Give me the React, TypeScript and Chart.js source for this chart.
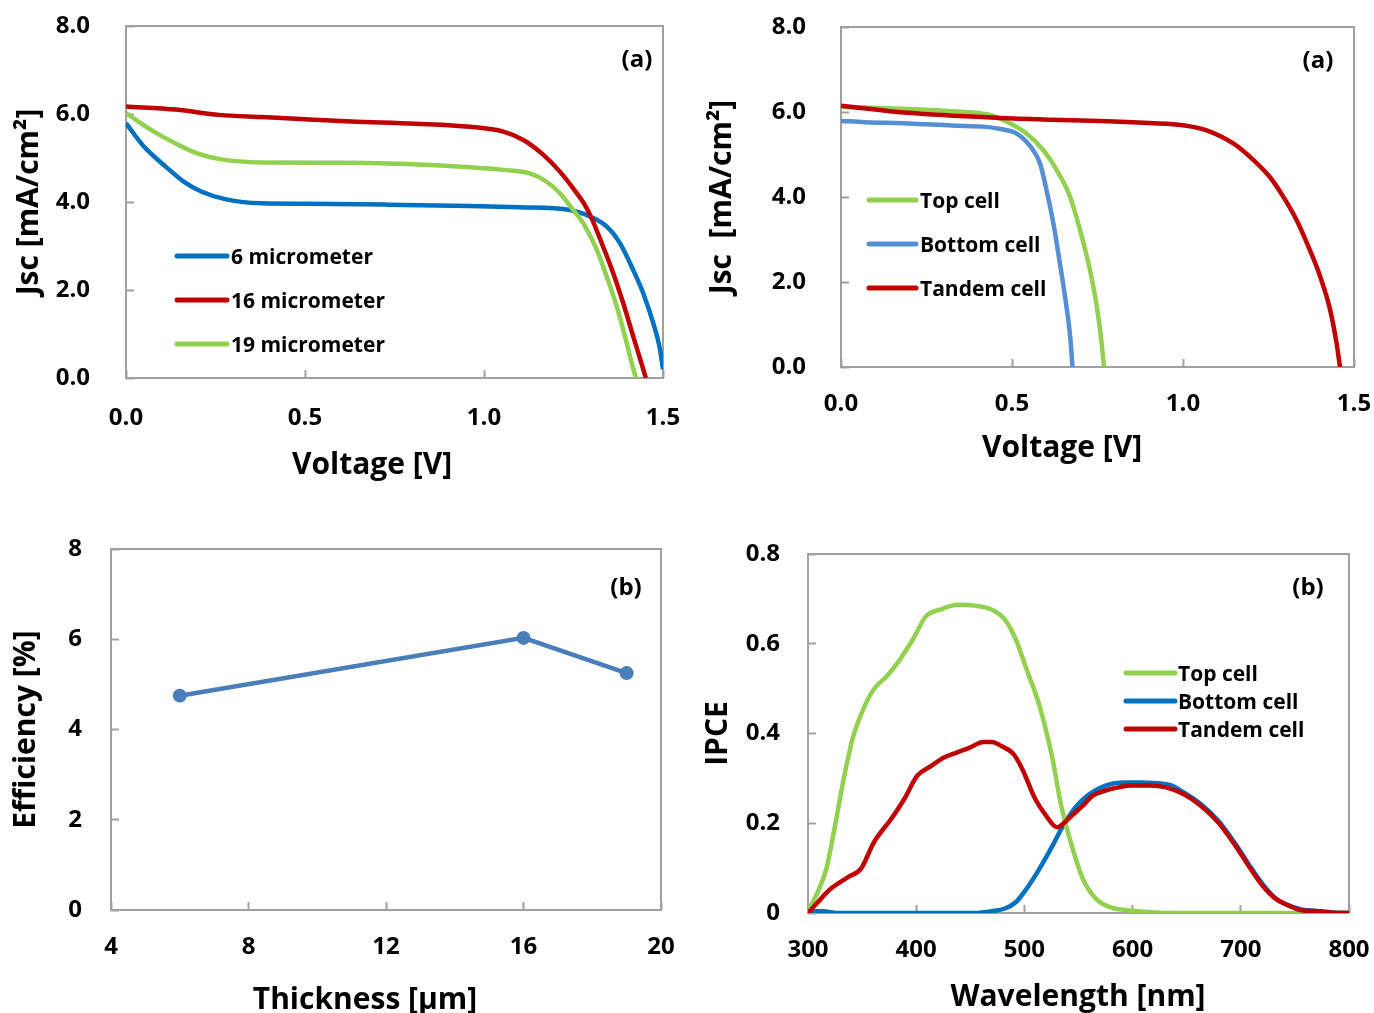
import React, { useEffect, useRef } from 'react';
import { Chart, registerables } from 'chart.js';

Chart.register(...registerables);

const FONT_FAMILY = '"Open Sans", "Liberation Sans", sans-serif';

// ---------- Panel (a), left: J-V curves for three absorber thicknesses ----------
const jv6Voltage = [0, 0.05, 0.11, 0.16, 0.21, 0.28, 0.38, 0.5, 0.73, 0.96, 1.1, 1.24, 1.296, 1.343, 1.38, 1.417, 1.445, 1.473, 1.49, 1.5];
const jv6Current = [5.79, 5.26, 4.81, 4.47, 4.24, 4.06, 3.97, 3.96, 3.94, 3.91, 3.88, 3.82, 3.67, 3.44, 3.06, 2.45, 1.92, 1.24, 0.72, 0.2];
const jv16Voltage = [0, 0.14, 0.26, 0.38, 0.5, 0.63, 0.81, 0.961, 1.054, 1.11, 1.166, 1.212, 1.249, 1.282, 1.305, 1.333, 1.361, 1.389, 1.417, 1.44, 1.452];
const jv16Current = [6.17, 6.1, 5.98, 5.93, 5.88, 5.83, 5.78, 5.71, 5.6, 5.41, 5.07, 4.69, 4.31, 3.93, 3.55, 2.98, 2.38, 1.7, 0.94, 0.33, 0];
const jv19Voltage = [0, 0.07, 0.136, 0.197, 0.259, 0.382, 0.629, 0.813, 0.961, 1.054, 1.128, 1.175, 1.212, 1.249, 1.277, 1.315, 1.343, 1.371, 1.394, 1.413, 1.424];
const jv19Current = [6.02, 5.64, 5.34, 5.11, 4.98, 4.9, 4.89, 4.85, 4.79, 4.73, 4.65, 4.46, 4.2, 3.82, 3.52, 2.91, 2.3, 1.62, 0.94, 0.33, 0];
const thicknessLabels = ['6 micrometer', '16 micrometer', '19 micrometer'];

// ---------- Panel (a), right: J-V curves of top, bottom and tandem cells ----------
const topVoltage = [0, 0.197, 0.324, 0.43, 0.485, 0.543, 0.592, 0.631, 0.67, 0.699, 0.728, 0.748, 0.762, 0.769];
const topCurrent = [6.12, 6.07, 6.02, 5.94, 5.77, 5.49, 5.1, 4.63, 4.0, 3.22, 2.28, 1.42, 0.56, 0];
const bottomVoltage = [0, 0.07, 0.197, 0.324, 0.425, 0.465, 0.514, 0.562, 0.582, 0.601, 0.621, 0.64, 0.655, 0.67, 0.677];
const bottomCurrent = [5.79, 5.76, 5.73, 5.68, 5.65, 5.6, 5.49, 5.1, 4.79, 4.16, 3.38, 2.44, 1.66, 0.72, 0];
const tandemVoltage = [0, 0.197, 0.465, 0.611, 0.757, 0.903, 1.0, 1.069, 1.147, 1.206, 1.254, 1.293, 1.332, 1.371, 1.401, 1.43, 1.449, 1.459];
const tandemCurrent = [6.15, 5.98, 5.86, 5.82, 5.79, 5.74, 5.69, 5.57, 5.26, 4.87, 4.47, 4.01, 3.46, 2.75, 2.13, 1.35, 0.56, 0];
const cellLabels = ['Top cell', 'Bottom cell', 'Tandem cell'];

// ---------- Panel (b), left: efficiency vs thickness ----------
const thicknessUm = [6, 16, 19];
const efficiencyPct = [4.75, 6.03, 5.25];

// ---------- Panel (b), right: IPCE spectra ----------
const topWavelength = [300, 309, 317, 325, 333, 341, 351, 361, 373, 385, 397, 409, 422, 438, 454, 470, 482, 492, 502, 514, 526, 534, 542, 554, 566, 579, 595, 615, 635, 700, 800];
const topIpce = [0.005, 0.047, 0.099, 0.195, 0.299, 0.387, 0.454, 0.499, 0.528, 0.565, 0.61, 0.661, 0.676, 0.687, 0.685, 0.676, 0.654, 0.61, 0.543, 0.461, 0.343, 0.239, 0.165, 0.076, 0.032, 0.013, 0.006, 0.002, 0, 0, 0];
const bottomWavelength = [300, 313, 329, 454, 470, 482, 492, 502, 514, 526, 534, 546, 558, 575, 591, 607, 623, 635, 647, 663, 679, 695, 707, 720, 732, 744, 756, 772, 788, 800];
const bottomIpce = [0.004, 0.004, 0, 0, 0.004, 0.01, 0.024, 0.054, 0.099, 0.15, 0.187, 0.232, 0.261, 0.284, 0.291, 0.291, 0.289, 0.285, 0.269, 0.243, 0.206, 0.154, 0.11, 0.065, 0.033, 0.017, 0.008, 0.004, 0.001, 0];
const tandemWavelength = [300, 309, 321, 337, 349, 361, 377, 389, 401, 414, 426, 438, 450, 462, 470, 478, 490, 498, 510, 520, 530, 542, 554, 563, 575, 587, 599, 615, 631, 647, 663, 679, 695, 707, 720, 732, 744, 756, 772, 788, 800];
const tandemIpce = [0, 0.024, 0.054, 0.08, 0.099, 0.158, 0.21, 0.254, 0.306, 0.328, 0.347, 0.358, 0.369, 0.381, 0.381, 0.373, 0.354, 0.321, 0.254, 0.217, 0.191, 0.213, 0.239, 0.261, 0.273, 0.28, 0.284, 0.284, 0.28, 0.265, 0.239, 0.202, 0.15, 0.106, 0.061, 0.032, 0.017, 0.006, 0.004, 0, 0];

// ---------- Tick values ----------
const jscTicks = [0, 2, 4, 6, 8];
const voltageTicks = [0, 0.5, 1.0, 1.5];
const efficiencyTicks = [0, 2, 4, 6, 8];
const thicknessTicks = [4, 8, 12, 16, 20];
const ipceTicks = [0, 0.2, 0.4, 0.6, 0.8];
const wavelengthTicks = [300, 400, 500, 600, 700, 800];

// ---------- Colours ----------
const BLUE = '#0070C0';
const LIGHT_BLUE = '#558ED5';
const RED = '#C00000';
const GREEN = '#92D050';
const STEEL = '#4A7EBB';
const FRAME = '#a0a0a0';

const pts = (xs: number[], ys: number[]) => xs.map((x, i) => ({ x, y: ys[i] }));

function axis(o: any) {
  return {
    type: 'linear',
    min: o.min,
    max: o.max,
    afterBuildTicks: (s: any) => {
      s.ticks = o.ticks.map((v: number) => ({ value: v }));
    },
    afterFit: (s: any) => {
      if (o.horizontal) s.height = o.fit;
      else s.width = o.fit;
      s.paddingTop = 0;
      s.paddingBottom = 0;
      s.paddingLeft = 0;
      s.paddingRight = 0;
    },
    ticks: {
      callback: (v: any) => o.fmt(Number(v)),
      padding: o.pad,
      color: '#000',
      font: { family: FONT_FAMILY, size: 24, weight: 'bold', lineHeight: 1.2 },
      autoSkip: false,
      maxRotation: 0,
      minRotation: 0,
    },
    grid: {
      display: true,
      drawOnChartArea: false,
      drawTicks: true,
      tickLength: -8,
      tickColor: FRAME,
      tickWidth: 2,
      color: FRAME,
    },
    border: { display: false },
    title: o.title
      ? {
          display: true,
          text: o.title,
          color: '#000',
          font: { family: FONT_FAMILY, size: 30, weight: 'bold', lineHeight: 1.2 },
          padding: { top: o.titlePad, bottom: 0 },
        }
      : { display: false },
  };
}

function decorations(d: any) {
  return {
    id: 'decorations',
    beforeDatasetsDraw(chart: any) {
      const { ctx, chartArea: a } = chart;
      ctx.save();
      ctx.strokeStyle = FRAME;
      ctx.lineWidth = 2;
      ctx.strokeRect(a.left, a.top, a.right - a.left, a.bottom - a.top);
      ctx.restore();
    },
    afterDatasetsDraw(chart: any) {
      const { ctx } = chart;
      ctx.save();
      ctx.fillStyle = '#000';
      ctx.textAlign = 'center';
      ctx.textBaseline = 'middle';
      (d.texts || []).forEach((t: any) => {
        ctx.font = `bold ${t.size}px ${FONT_FAMILY}`;
        ctx.fillText(t.text, t.x, t.y);
      });
      const lg = d.legend;
      if (lg) {
        chart.data.datasets.forEach((ds: any, i: number) => {
          const y = lg.y + i * lg.gap;
          ctx.strokeStyle = ds.borderColor;
          ctx.lineWidth = 5;
          ctx.lineCap = 'round';
          ctx.beginPath();
          ctx.moveTo(lg.x0, y);
          ctx.lineTo(lg.x1, y);
          ctx.stroke();
          ctx.font = `bold ${lg.size}px ${FONT_FAMILY}`;
          ctx.textAlign = 'left';
          ctx.fillText(ds.label, lg.textX, y + 2);
        });
      }
      ctx.restore();
    },
  };
}

const curve = (label: string, color: string, data: any[], order: number) => ({
  label,
  data,
  borderColor: color,
  backgroundColor: color,
  borderWidth: 4.5,
  pointRadius: 0,
  pointHoverRadius: 0,
  fill: false,
  cubicInterpolationMode: 'monotone',
  tension: 0.4,
  order,
});

const one = (v: number) => v.toFixed(1);

function baseOptions(padding: any, x: any, y: any) {
  return {
    responsive: false,
    maintainAspectRatio: false,
    animation: false,
    devicePixelRatio: 1,
    events: [],
    layout: { padding },
    plugins: { legend: { display: false }, tooltip: { enabled: false }, title: { display: false } },
    scales: { x, y },
  };
}

function configJvThickness(): any {
  return {
    type: 'line',
    data: {
      datasets: [
        curve(thicknessLabels[0], BLUE, pts(jv6Voltage, jv6Current), 2),
        curve(thicknessLabels[1], RED, pts(jv16Voltage, jv16Current), 0),
        curve(thicknessLabels[2], GREEN, pts(jv19Voltage, jv19Current), 1),
      ],
    },
    options: baseOptions(
      { left: 0, top: 26, right: 24, bottom: 0 },
      axis({ min: 0, max: 1.5, ticks: voltageTicks, fmt: one, pad: 34, fit: 122, horizontal: true }),
      axis({ min: 0, max: 8, ticks: jscTicks, fmt: one, pad: 44, fit: 126, title: 'Jsc [mA/cm²]', titlePad: 11 })
    ),
    plugins: [
      decorations({
        texts: [
          { text: 'Voltage [V]', x: 372, y: 465, size: 30 },
          { text: '(a)', x: 637, y: 60, size: 24 },
        ],
        legend: { x0: 177, x1: 227, textX: 231, y: 256, gap: 44, size: 21 },
      }),
    ],
  };
}

function configJvCells(): any {
  return {
    type: 'line',
    data: {
      datasets: [
        curve(cellLabels[0], GREEN, pts(topVoltage, topCurrent), 1),
        curve(cellLabels[1], LIGHT_BLUE, pts(bottomVoltage, bottomCurrent), 2),
        curve(cellLabels[2], RED, pts(tandemVoltage, tandemCurrent), 0),
      ],
    },
    options: baseOptions(
      { left: 0, top: 27, right: 20, bottom: 0 },
      axis({ min: 0, max: 1.5, ticks: voltageTicks, fmt: one, pad: 31, fit: 133, horizontal: true }),
      axis({ min: 0, max: 8, ticks: jscTicks, fmt: one, pad: 43, fit: 154, title: 'Jsc  [mA/cm²]', titlePad: 17 })
    ),
    plugins: [
      decorations({
        texts: [
          { text: 'Voltage [V]', x: 375, y: 448, size: 30 },
          { text: '(a)', x: 631, y: 61, size: 24 },
        ],
        legend: { x0: 182, x1: 229, textX: 233, y: 200, gap: 44, size: 21 },
      }),
    ],
  };
}

function configEfficiency(): any {
  return {
    type: 'line',
    data: {
      datasets: [
        {
          label: 'Efficiency',
          data: pts(thicknessUm, efficiencyPct),
          borderColor: STEEL,
          backgroundColor: STEEL,
          pointBackgroundColor: STEEL,
          pointBorderColor: STEEL,
          borderWidth: 4.5,
          pointRadius: 7,
          pointHoverRadius: 7,
          pointBorderWidth: 0,
          tension: 0,
          fill: false,
        },
      ],
    },
    options: baseOptions(
      { left: 0, top: 49, right: 26, bottom: 0 },
      axis({ min: 4, max: 20, ticks: thicknessTicks, fmt: (v: number) => String(v), pad: 31, fit: 103, horizontal: true }),
      axis({ min: 0, max: 8, ticks: efficiencyTicks, fmt: (v: number) => String(v), pad: 37, fit: 111, title: 'Efficiency [%]', titlePad: 8 })
    ),
    plugins: [
      decorations({
        texts: [
          { text: 'Thickness [µm]', x: 365, y: 500, size: 30 },
          { text: '(b)', x: 626, y: 88, size: 24 },
        ],
      }),
    ],
  };
}

function configIpce(): any {
  return {
    type: 'line',
    data: {
      datasets: [
        curve(cellLabels[0], GREEN, pts(topWavelength, topIpce), 1),
        curve(cellLabels[1], BLUE, pts(bottomWavelength, bottomIpce), 2),
        curve(cellLabels[2], RED, pts(tandemWavelength, tandemIpce), 0),
      ],
    },
    options: baseOptions(
      { left: 0, top: 54, right: 25, bottom: 0 },
      axis({ min: 300, max: 800, ticks: wavelengthTicks, fmt: (v: number) => String(v), pad: 31, fit: 100, horizontal: true }),
      axis({ min: 0, max: 0.8, ticks: ipceTicks, fmt: (v: number) => (v === 0 ? '0' : v.toFixed(1)), pad: 36, fit: 121, title: 'IPCE', titlePad: 13 })
    ),
    plugins: [
      decorations({
        texts: [
          { text: 'Wavelength [nm]', x: 391, y: 497, size: 30 },
          { text: '(b)', x: 621, y: 88, size: 24 },
        ],
        legend: { x0: 439, x1: 488, textX: 491, y: 173, gap: 28, size: 21 },
      }),
    ],
  };
}

function Panel(props: { left: number; top: number; width: number; height: number; make: () => any }) {
  const ref = useRef<HTMLCanvasElement>(null);
  useEffect(() => {
    const chart = new Chart(ref.current as HTMLCanvasElement, props.make());
    return () => chart.destroy();
  }, []);
  return (
    <canvas
      ref={ref}
      width={props.width}
      height={props.height}
      style={{ position: 'absolute', left: props.left, top: props.top, width: props.width, height: props.height }}
    />
  );
}

export default function App() {
  return (
    <div style={{ position: 'absolute', left: 0, top: 0, width: 1374, height: 1013, background: '#fff', overflow: 'hidden' }}>
      <Panel left={0} top={0} width={687} height={500} make={configJvThickness} />
      <Panel left={687} top={0} width={687} height={500} make={configJvCells} />
      <Panel left={0} top={500} width={687} height={513} make={configEfficiency} />
      <Panel left={687} top={500} width={687} height={513} make={configIpce} />
    </div>
  );
}
